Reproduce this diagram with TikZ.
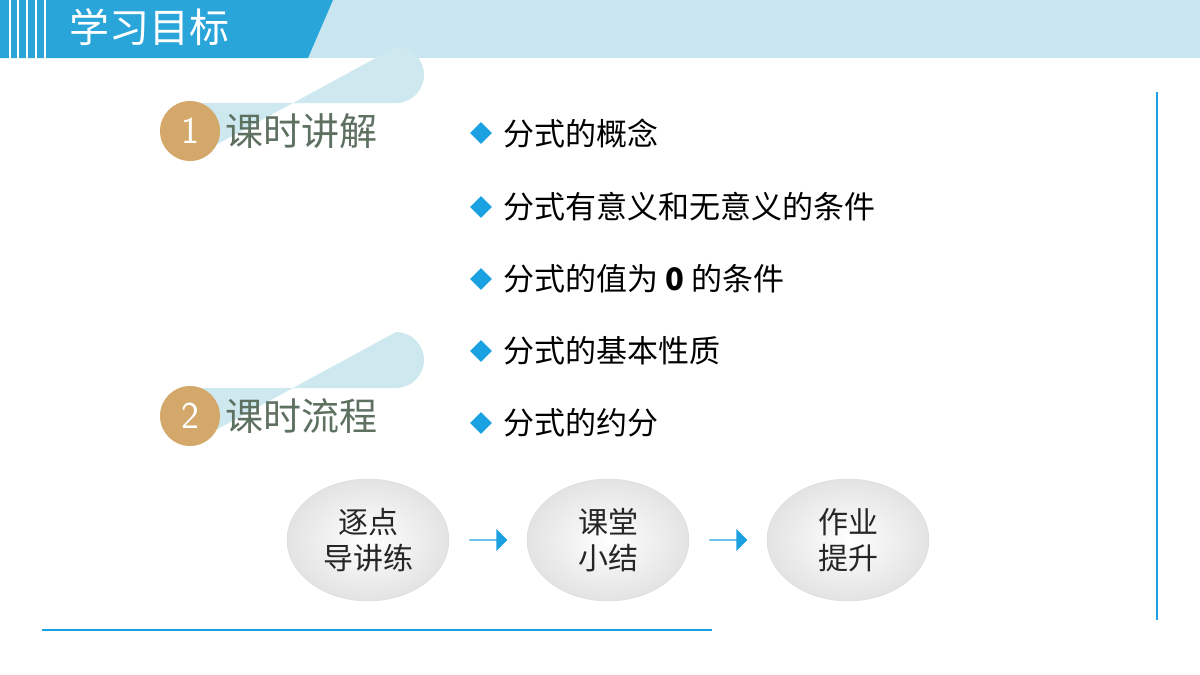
\documentclass[tikz,border=0pt]{standalone}
\usepackage{fontspec}
\newfontfamily\cjk{Noto Sans CJK SC}
\usetikzlibrary{shapes.geometric,shapes.arrows,calc}
\definecolor{hdblue}{HTML}{2AA5DA}
\definecolor{hdlight}{HTML}{C9E6F0}
\definecolor{pill}{HTML}{CDE8EE}
\definecolor{badge}{HTML}{D4A86A}
\definecolor{pilltext}{HTML}{5E7060}
\definecolor{markblue}{HTML}{1BA1E2}
\tikzset{
  bulletmark/.style={diamond,fill=markblue,inner sep=0pt,minimum size=22pt},
  item/.style={anchor=west,font=\cjk\fontsize{31}{31}\selectfont,text=black},
  stage/.style={ellipse,minimum width=162pt,minimum height=122pt,draw=gray!30,
    inner color=white,outer color=gray!22,align=center,
    font=\cjk\fontsize{30}{36}\selectfont,text=black!85},
  flowarrow/.style={single arrow,fill=markblue,minimum height=38pt,minimum width=22pt,
    single arrow head extend=3pt,inner sep=0pt}
}
\begin{document}
\begin{tikzpicture}[x=1pt,y=-1pt]
\useasboundingbox (0,0) rectangle (1200,675);
% header band
\fill[hdlight] (300,0) rectangle (1200,58);
\fill[hdblue] (0,0) -- (333,0) -- (308,58) -- (0,58) -- cycle;
\foreach \x in {9,17,26,35,44}
  \fill[white] (\x,0) rectangle (\x+1.5,58);
\node[anchor=west,text=white,font=\cjk\fontsize{40}{40}\selectfont] (title) at (66,27) {学习目标};
% section badges
\foreach \y/\n/\t in {131/1/课时讲解,416/2/课时流程}{
  \fill[pill] (190,\y-28) -- (396,\y-28) arc (90:-90:28) -- (190,\y+28) -- cycle;
  \fill[badge] (190,\y) circle (30);
  \node[text=white,font=\fontsize{38}{38}\selectfont\sffamily] (num\n) at (190,\y) {\n};
  \node[anchor=west,text=pilltext,font=\cjk\fontsize{38}{38}\selectfont] (sec\n) at (222,\y) {\t};
}
% topics
\foreach \y/\t [count=\i] in {133/分式的概念,207/分式有意义和无意义的条件,279/分式的值为 \textbf{0} 的条件,351/分式的基本性质,423/分式的约分}{
  \node[bulletmark] (m\i) at (481,\y) {};
  \node[item] (t\i) at (500,\y) {\t};
}
% flow
\node[stage] (s1) at (368,540) {逐点\\导讲练};
\node[stage] (s2) at (608,540) {课堂\\小结};
\node[stage] (s3) at (848,540) {作业\\提升};
\node[flowarrow] (a1) at ($(s1)!0.5!(s2)$) {};
\node[flowarrow] (a2) at ($(s2)!0.5!(s3)$) {};
% frame lines
\draw[markblue,line width=1.2pt] (1157,92) -- (1157,620);
\draw[markblue,line width=1.2pt] (42,630) -- (712,630);
\end{tikzpicture}
\end{document}
